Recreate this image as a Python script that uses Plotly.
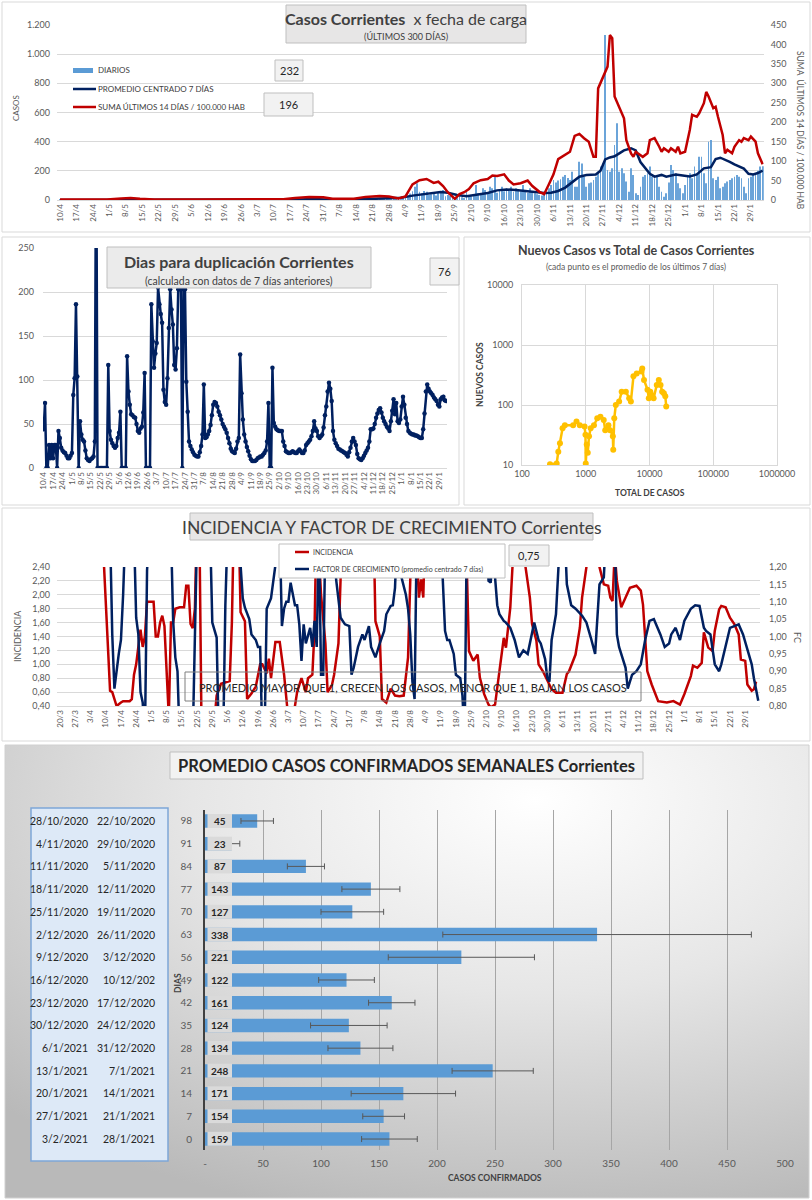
import base64
import plotly.graph_objects as go

W, H = 812, 1200
def fx(p): return p / W
def fy(p): return 1 - p / H

# ---------------- DATA ----------------
week_labels = ["10/4","17/4","24/4","1/5","8/5","15/5","22/5","29/5","5/6","12/6","19/6","26/6",
               "3/7","10/7","17/7","24/7","31/7","7/8","14/8","21/8","28/8","4/9","11/9","18/9",
               "25/9","2/10","9/10","16/10","23/10","30/10","6/11","13/11","20/11","27/11","4/12",
               "11/12","18/12","25/12","1/1","8/1","15/1","22/1","29/1"]
inc_week_labels = ["20/3","27/3","3/4"] + week_labels

# daily cases, day 0 = 10/4/2020 ... day 299 = 3/2/2021
diarios = [
    1,0,2,0,1,0,0,  1,0,0,2,0,1,0,  0,1,0,0,1,0,0,  2,1,3,0,4,2,5,
    3,6,2,4,1,2,1,  0,1,0,0,1,0,0,  0,0,1,0,0,0,1,  0,0,0,1,0,0,2,
    0,1,0,0,0,1,0,  0,0,1,0,0,0,0,  1,0,0,0,2,0,0,  0,1,0,0,0,0,1,
    0,0,0,1,0,0,0,  1,0,2,0,1,3,1,  2,4,3,6,5,4,7,  6,8,5,9,4,6,3,
    2,3,1,2,0,3,1,  2,1,3,2,4,2,3,  5,4,6,8,7,9,6,  10,8,12,9,11,7,10,
    8,12,6,5,9,14,20,  35,28,45,60,91,114,57,  46,62,57,34,40,46,30,
    52,48,69,25,34,28,20,  15,22,34,18,12,57,20,  25,40,103,46,38,80,69,
    55,91,80,160,50,69,91,  60,80,69,91,57,80,75,  60,103,69,50,80,55,46,
    40,34,30,34,57,80,103,  137,120,133,142,160,171,150,  137,194,91,91,263,251,160,
    91,114,120,137,160,194,229,  250,1131,206,194,217,377,526,  194,217,183,126,57,217,171,
    46,34,91,160,171,183,229,  160,149,160,91,57,23,46,  120,240,206,183,114,80,46,
    103,160,183,149,229,183,297,  297,183,114,400,411,149,137,  160,80,91,114,126,137,149,
    160,171,160,149,91,46,149,  160,171,183,200,229,232]

prom7_days = [0, 15, 25, 30, 40, 60, 80, 95, 102, 108, 115, 125, 136, 145, 150, 156, 162, 165, 169, 173,
              177, 182, 186, 190, 194, 199, 203, 206, 209, 212, 215, 218, 221, 224, 228, 230, 232, 234,
              236, 238, 240, 243, 245, 247, 249, 251, 253, 256, 258, 260, 262, 265, 268, 271, 274, 277,
              279, 281, 283, 285, 287, 289, 291, 293, 295, 297, 299]
prom7_vals = [0.5, 0.5, 2, 3, 1, 0.5, 0.5, 1, 4, 6, 2, 3, 9, 15, 30, 45, 55, 50, 34, 26,
              38, 48, 66, 72, 69, 62, 55, 48, 50, 62, 85, 120, 160, 172, 175, 200, 278, 292,
              300, 320, 340, 355, 340, 260, 222, 180, 160, 172, 160, 165, 175, 168, 162, 175, 217, 225,
              280, 290, 278, 262, 245, 232, 215, 180, 175, 185, 201]

suma14_days = [0, 10, 20, 26, 30, 34, 40, 60, 80, 95, 100, 106, 112, 116, 125, 130, 136, 140, 144, 147,
               150, 153, 156, 159, 161, 163, 165, 168, 170, 172, 174, 176, 179, 182, 184, 186, 189, 191,
               193, 196, 199, 201, 204, 206, 208, 210, 212, 215, 217, 219, 221, 223, 225, 227, 228, 229,
               231, 233, 234, 235, 236, 238, 240, 241, 243, 244, 245, 248, 250, 251, 253, 255, 256, 257,
               259, 260, 262, 263, 264, 266, 268, 269, 271, 272, 274, 275, 276, 278, 279, 280, 282, 283,
               284, 286, 287, 289, 290, 291, 293, 294, 296, 297, 299]
suma14_vals = [1, 1, 1, 4, 5, 3, 1, 1, 1, 2, 5, 8, 7, 3, 3, 8, 10, 9, 4, 9,
               40, 51, 54, 44, 47, 36, 20, 3, 15, 20, 28, 43, 51, 54, 63, 62, 66, 50,
               40, 43, 50, 36, 21, 15, 40, 66, 105, 116, 124, 165, 170, 159, 150, 111, 111, 287,
               313, 343, 424, 416, 266, 240, 210, 154, 120, 111, 124, 111, 120, 154, 159, 137, 124, 133,
               124, 133, 124, 137, 120, 124, 180, 219, 214, 223, 249, 278, 266, 236, 240, 214, 167, 120,
               129, 120, 137, 154, 150, 159, 154, 163, 150, 120, 92]

# dias para duplicacion, day 0 = 10/4
dup_vals = [
    44, 74, 0, 0, 26, 11, 26, 11, 26, 26,
    0, 42, 34, 23, 20, 18, 17, 14, 11, 11,
    14, 17, 83, 102, 186, 104, 0, 53, 38, 32,
    30, 20, 11, 9, 8, 10, 11, 13, 30, 400,
    0, 0, 0, 0, 0, 0, 0, 0, 117, 42,
    32, 28, 25, 23, 25, 34, 40, 64, 0, 0,
    0, 0, 127, 87, 72, 61, 60, 58, 57, 50,
    42, 40, 45, 47, 63, 108, 0, 0, 0, 0,
    186, 144, 114, 130, 142, 205, 186, 175, 165, 89,
    75, 72, 102, 159, 203, 180, 163, 117, 112, 136,
    203, 203, 203, 0, 203, 203, 98, 64, 30, 25,
    21, 18, 15, 14, 13, 13, 18, 25, 38, 95,
    34, 35, 38, 42, 49, 60, 72, 75, 74, 70,
    64, 60, 55, 50, 47, 44, 40, 34, 28, 22,
    19, 18, 17, 22, 30, 34, 129, 85, 55, 38,
    30, 24, 19, 14, 10, 8, 8, 8, 9, 11,
    12, 13, 13, 15, 17, 20, 30, 74, 0, 0,
    114, 51, 47, 44, 43, 42, 42, 42, 30, 25,
    19, 18, 17, 17, 18, 19, 18, 17, 17, 19,
    21, 19, 17, 17, 20, 26, 28, 30, 32, 36,
    42, 53, 45, 42, 36, 34, 36, 38, 46, 60,
    70, 87, 97, 90, 76, 42, 32, 28, 25, 22,
    21, 20, 19, 18, 17, 15, 13, 18, 23, 30,
    34, 30, 26, 16, 11, 10, 9, 11, 14, 17,
    20, 23, 30, 44, 44, 45, 50, 57, 62, 66,
    68, 63, 57, 53, 50, 47, 45, 42, 53, 65,
    78, 61, 74, 53, 51, 55, 70, 81, 72, 57,
    50, 42, 40, 39, 38, 38, 37, 37, 36, 35,
    34, 34, 44, 62, 87, 95, 90, 87, 85, 83,
    80, 78, 76, 72, 70, 78, 80, 81, 77, 76]

scat_total = [275, 350, 371, 394, 433, 470, 634, 716, 807, 958, 990, 1000, 1037, 1075, 1125,
              1195, 1345, 1515, 1700, 1915, 2020, 2270, 2410, 2660, 2700, 2800, 2960, 3340, 3660, 4260,
              4800, 5100, 5600, 6300, 7500, 7700, 8200, 9300, 9750, 10300, 11000, 11600, 13000, 14000,
              14900, 15800, 16800, 17700, 18300]
scat_new = [10.3, 10.6, 16.7, 23, 41, 46, 46, 53, 46, 44, 32, 10.6, 22, 16, 30,
            41, 46, 60, 64, 56, 38, 46, 38, 30, 18, 60, 100, 114, 167, 167,
            130, 114, 300, 335, 360, 405, 262, 180, 130, 167, 145, 130, 215, 260,
            215, 167, 157, 140, 94]

# incidencia / factor de crecimiento, day 0 = 20/3/2020
inc_days = [19, 21, 23, 24, 26, 28, 29, 32, 33, 34,
            35, 36, 37, 38, 39, 40, 43, 44, 45, 46,
            47, 48, 49, 50, 51, 52, 53, 55, 57, 58,
            59, 60, 61, 62, 63, 64, 65, 71, 72, 74,
            78, 79, 80, 82, 83, 85, 86, 88, 90, 92,
            93, 95, 96, 97, 99, 101, 103, 104, 105, 107,
            109, 111, 113, 114, 116, 117, 118, 119, 120, 122,
            123, 125, 126, 128, 129, 130, 144, 145, 147, 148,
            150, 152, 154, 156, 158, 160, 161, 162, 164, 165,
            166, 167, 168, 186, 187, 188, 190, 192, 193, 195,
            197, 198, 200, 201, 203, 204, 205, 207, 208, 209,
            213, 214, 216, 217, 219, 220, 222, 224, 226, 228,
            231, 233, 234, 237, 239, 240, 242, 243, 247, 248,
            250, 252, 253, 254, 255, 256, 258, 260, 262, 265,
            267, 268, 269, 270, 272, 275, 279, 282, 285, 287,
            290, 291, 293, 295, 296, 298, 300, 301, 303, 304,
            306, 308, 310, 312, 313, 315, 316, 318, 319, 320]
inc_vals = [3.2, 1.9, 0.62, 0.6, 0.4, 0.45, 0.47, 0.47, 0.5, 0.85,
            1.0, 1.25, 1.5, 1.25, 1.4, 1.9, 1.9, 1.4, 1.4, 1.6,
            1.7, 1.55, 0.9, 0.25, 1.6, 1.6, 1.8, 1.82, 1.82, 2.13,
            2.13, 1.58, 1.52, 1.8, 3.2, 3.2, 0.2, 0.2, 0.55, 0.72,
            0.76, 1.6, 3.2, 3.2, 1.75, 1.62, 0.5, 0.58, 0.68, 1.0,
            1.0, 0.87, 1.08, 0.8, 1.32, 1.32, 0.85, 0.4, 0.2, 0.2,
            0.6, 0.8, 0.6, 0.8, 0.85, 1.5, 3.2, 2.6, 2.0, 1.3,
            0.6, 0.7, 0.85, 1.3, 2.4, 3.2, 3.2, 1.62, 1.4, 0.5,
            0.45, 0.65, 0.55, 0.54, 0.55, 1.1, 2.2, 3.2, 2.6, 1.96,
            2.22, 1.96, 3.2, 3.2, 2.4, 1.19, 1.05, 1.14, 0.81, 0.57,
            0.42, 0.38, 0.42, 0.66, 1.19, 1.38, 1.24, 1.82, 2.4, 3.2,
            3.2, 2.4, 1.96, 1.58, 1.34, 1.0, 0.9, 0.76, 0.64, 0.59,
            0.59, 0.86, 0.9, 1.14, 1.53, 1.96, 2.4, 3.2, 3.2, 2.4,
            2.15, 2.13, 1.96, 1.91, 2.6, 2.2, 1.82, 1.96, 2.1, 2.13,
            2.06, 1.86, 1.34, 0.9, 0.71, 0.47, 0.45, 0.47, 0.42, 0.57,
            0.83, 0.98, 0.95, 1.02, 1.46, 1.24, 1.19, 1.48, 1.79, 1.84,
            1.82, 1.67, 1.58, 1.43, 1.07, 1.05, 0.71, 0.62, 0.64, 0.75]
fc_days = [23, 24, 25, 26, 27, 28, 29, 30, 34, 35,
           36, 37, 38, 39, 40, 41, 51, 52, 53, 54,
           55, 61, 62, 63, 69, 70, 72, 73, 75, 76,
           77, 82, 84, 85, 87, 88, 90, 91, 92, 93,
           94, 95, 97, 98, 100, 101, 102, 103, 104, 105,
           106, 107, 108, 109, 110, 111, 112, 113, 115, 116,
           117, 118, 119, 120, 121, 122, 125, 127, 129, 131,
           133, 134, 135, 137, 139, 140, 142, 143, 145, 147,
           149, 150, 152, 153, 154, 155, 157, 159, 160, 161,
           162, 163, 164, 175, 177, 178, 179, 181, 182, 184,
           185, 186, 187, 196, 197, 198, 199, 201, 202, 204,
           205, 207, 209, 211, 213, 215, 217, 218, 220, 221,
           223, 224, 225, 226, 228, 229, 230, 232, 233, 235,
           237, 240, 242, 244, 246, 248, 250, 251, 255, 256,
           257, 260, 261, 263, 265, 267, 269, 271, 273, 274,
           276, 278, 280, 281, 283, 285, 287, 290, 292, 294,
           296, 297, 299, 301, 303, 304, 306, 308, 310, 312,
           314, 316, 318, 319, 321]
fc_vals = [1.3, 1.006, 0.85, 0.91, 0.95, 0.99, 1.12, 1.3, 1.3, 1.054,
           1.006, 0.84, 0.81, 0.7, 1.19, 1.3, 1.3, 1.045, 0.94, 0.90,
           0.7, 0.7, 1.06, 1.3, 1.3, 1.04, 0.997, 0.7, 0.7, 1.09,
           1.3, 1.3, 1.11, 1.083, 1.05, 1.006, 0.99, 0.97, 0.97, 0.7,
           0.7, 1.08, 1.11, 1.16, 1.3, 1.3, 1.03, 1.08, 1.10, 1.10,
           1.155, 1.12, 1.09, 1.09, 1.035, 0.93, 1.035, 0.98, 1.025, 0.97,
           1.045, 0.97, 1.3, 0.89, 0.89, 1.3, 1.3, 1.16, 1.054, 1.035,
           1.03, 0.89, 0.91, 0.97, 1.006, 0.99, 1.03, 0.97, 0.94, 0.98,
           1.016, 1.064, 1.088, 1.09, 1.14, 1.3, 1.17, 1.12, 1.08, 1.006,
           0.87, 0.82, 1.3, 1.3, 1.016, 0.99, 0.99, 0.95, 0.89, 0.88,
           0.83, 0.7, 1.3, 1.3, 1.16, 1.155, 1.25, 1.09, 1.064, 1.045,
           1.04, 1.025, 0.99, 0.94, 0.96, 0.95, 1.006, 1.04, 0.99, 0.98,
           0.935, 0.88, 0.87, 0.99, 1.064, 1.15, 1.3, 1.3, 1.15, 1.09,
           1.08, 1.06, 1.04, 0.997, 0.95, 1.15, 1.17, 1.3, 1.3, 1.006,
           0.97, 0.91, 0.85, 0.89, 0.90, 0.92, 0.99, 1.045, 1.05, 1.035,
           1.006, 0.97, 0.98, 1.006, 1.025, 0.99, 1.045, 1.08, 1.09, 1.088,
           1.025, 1.016, 1.006, 0.92, 0.90, 0.92, 0.97, 1.025, 1.03, 1.035,
           1.006, 0.96, 0.92, 0.88, 0.815]

dias = [98, 91, 84, 77, 70, 63, 56, 49, 42, 35, 28, 21, 14, 7, 0]
prom_sem = [45, 23, 87, 143, 127, 338, 221, 122, 161, 124, 134, 248, 171, 154, 159]
err_sem = [14, 7, 16, 25, 27, 133, 63, 24, 20, 33, 28, 35, 45, 18, 24]
fecha_fin = ["28/10/2020","4/11/2020","11/11/2020","18/11/2020","25/11/2020","2/12/2020","9/12/2020",
             "16/12/2020","23/12/2020","30/12/2020","6/1/2021","13/1/2021","20/1/2021","27/1/2021","3/2/2021"]
fecha_ini = ["22/10/2020","29/10/2020","5/11/2020","12/11/2020","19/11/2020","26/11/2020","3/12/2020",
             "10/12/202","17/12/2020","24/12/2020","31/12/2020","7/1/2021","14/1/2021","21/1/2021","28/1/2021"]

# ---------------- STYLE ----------------
FONT = "Lato"
GRAY = "#595959"
DARK = "#404040"
GRID = "#d9d9d9"
BLUE = "#5B9BD5"
NAVY = "#002060"
RED = "#C00000"
GOLD = "#FFC000"

fig = go.Figure()

# Panel 1
fig.add_trace(go.Bar(x=list(range(len(diarios))), y=diarios, marker_color=BLUE, marker_line_width=0,
                     width=0.35, opacity=0.9, xaxis="x", yaxis="y"))
fig.add_trace(go.Scatter(x=prom7_days, y=prom7_vals, mode="lines", line=dict(color=NAVY, width=2.5),
                         xaxis="x", yaxis="y"))
fig.add_trace(go.Scatter(x=suma14_days, y=suma14_vals, mode="lines", line=dict(color=RED, width=2.5),
                         xaxis="x", yaxis="y2"))
# Panel 2
fig.add_trace(go.Scatter(x=list(range(len(dup_vals))), y=dup_vals, mode="lines+markers",
                         line=dict(color=NAVY, width=2.5), marker=dict(color=NAVY, size=4.5),
                         xaxis="x3", yaxis="y3"))
# Panel 3
fig.add_trace(go.Scatter(x=scat_total, y=scat_new, mode="lines+markers",
                         line=dict(color=GOLD, width=2.5), marker=dict(color=GOLD, size=6),
                         xaxis="x4", yaxis="y4"))
# Panel 4
fig.add_trace(go.Scatter(x=inc_days, y=inc_vals, mode="lines", line=dict(color=RED, width=2.5),
                         xaxis="x5", yaxis="y5"))
fig.add_trace(go.Scatter(x=fc_days, y=fc_vals, mode="lines", line=dict(color=NAVY, width=2.5),
                         xaxis="x5", yaxis="y6"))
# Panel 5
fig.add_trace(go.Bar(x=prom_sem, y=list(range(len(prom_sem))), orientation="h", marker_color=BLUE,
                     marker_line_width=0, width=0.59,
                     error_x=dict(type="data", array=err_sem, color=GRAY, thickness=1, width=3),
                     xaxis="x7", yaxis="y7"))

tf8 = dict(family=FONT, size=8, color=GRAY)
tf9 = dict(family=FONT, size=9, color=GRAY)
tf10 = dict(family=FONT, size=10, color=GRAY)

layout = dict(
    width=W, height=H, margin=dict(l=0, r=0, t=0, b=0, autoexpand=False),
    paper_bgcolor="white", plot_bgcolor="rgba(0,0,0,0)", showlegend=False,
    font=dict(family=FONT, color=DARK),
    # panel 1
    xaxis=dict(domain=[fx(57), fx(763.8)], range=[-1.3, 299.5], anchor="y",
               tickvals=list(range(0, 7 * len(week_labels), 7)), ticktext=week_labels,
               tickangle=-90, tickfont=tf8, showgrid=False, zeroline=False,
               showline=True, linecolor=GRID, automargin=False),
    yaxis=dict(domain=[fy(200), fy(25)], range=[0, 1200], anchor="x",
               tickvals=[0, 200, 400, 600, 800, 1000, 1200],
               ticktext=["0", "200", "400", "600", "800", "1.000", "1.200"],
               tickfont=tf9, gridcolor=GRID, zeroline=False, ticklabelstandoff=6, automargin=False),
    yaxis2=dict(range=[0, 450], overlaying="y", side="right", anchor="x", dtick=50,
                tickfont=tf9, showgrid=False, zeroline=False, ticklabelstandoff=6, automargin=False),
    # panel 2
    xaxis3=dict(domain=[fx(43), fx(447)], range=[-0.5, 299.7], anchor="y3",
                tickvals=list(range(0, 7 * len(week_labels), 7)), ticktext=week_labels,
                tickangle=-90, tickfont=tf8, showgrid=False, zeroline=False,
                showline=True, linecolor=GRID, automargin=False),
    yaxis3=dict(domain=[fy(468), fy(248)], range=[0, 250], anchor="x3", dtick=50,
                tickfont=tf9, gridcolor=GRID, zeroline=False, ticklabelstandoff=8, automargin=False),
    # panel 3
    xaxis4=dict(domain=[fx(522), fx(777)], type="log", range=[2, 6], anchor="y4",
                tickvals=[100, 1000, 10000, 100000, 1000000],
                ticktext=["100", "1000", "10000", "100000", "1000000"],
                tickfont=tf9, gridcolor=GRID, zeroline=False, showline=True,
                linecolor=GRID, mirror=True, automargin=False),
    yaxis4=dict(domain=[fy(465), fy(285)], type="log", range=[1, 4], anchor="x4",
                tickvals=[10, 100, 1000, 10000], ticktext=["10", "100", "1000", "10000"],
                tickfont=tf9, gridcolor=GRID, zeroline=False, showline=True,
                linecolor=GRID, mirror=True, ticklabelstandoff=6, automargin=False),
    # panel 4
    xaxis5=dict(domain=[fx(57), fx(760)], range=[-1.4, 321.8], anchor="y5",
                tickvals=list(range(0, 7 * len(inc_week_labels), 7)), ticktext=inc_week_labels,
                tickangle=-90, tickfont=tf8, showgrid=False, zeroline=False,
                showline=True, linecolor=GRID, automargin=False),
    yaxis5=dict(domain=[fy(706), fy(567)], range=[0.4, 2.4], anchor="x5",
                tickvals=[0.4 + 0.2 * i for i in range(11)],
                ticktext=[("%.2f" % (0.4 + 0.2 * i)).replace(".", ",") for i in range(11)],
                tickfont=tf9, gridcolor=GRID, zeroline=False, ticklabelstandoff=6, automargin=False),
    yaxis6=dict(range=[0.8, 1.2], overlaying="y5", side="right", anchor="x5",
                tickvals=[0.8 + 0.05 * i for i in range(9)],
                ticktext=[("%.2f" % (0.8 + 0.05 * i)).replace(".", ",") for i in range(9)],
                tickfont=tf9, showgrid=False, zeroline=False, ticklabelstandoff=8, automargin=False),
    # panel 5
    xaxis7=dict(domain=[fx(205), fx(785)], range=[0, 500], anchor="y7",
                tickvals=list(range(0, 550, 50)),
                ticktext=["-"] + [str(v) for v in range(50, 550, 50)],
                tickfont=tf10, gridcolor="#a6a6a6", zeroline=False, ticklabelstandoff=6, automargin=False),
    yaxis7=dict(domain=[fy(1150.4), fy(809.6)], range=[14.5, -0.5], anchor="x7",
                tickvals=list(range(len(dias))), ticktext=[str(d) for d in dias],
                tickfont=tf10, showgrid=False, zeroline=False, showline=True,
                linecolor=DARK, linewidth=2, ticklabelstandoff=9, automargin=False),
)
fig.update_layout(**layout)

shapes = []
ann = []

def rect(x0, y0, x1, y1, fill="rgba(0,0,0,0)", line="#bfbfbf", lw=1):
    shapes.append(dict(type="rect", xref="paper", yref="paper", x0=fx(x0), x1=fx(x1),
                       y0=fy(y1), y1=fy(y0), fillcolor=fill, line=dict(color=line, width=lw)))

def hline(x0, x1, y, color, lw=2.5):
    shapes.append(dict(type="line", xref="paper", yref="paper", x0=fx(x0), x1=fx(x1),
                       y0=fy(y), y1=fy(y), line=dict(color=color, width=lw)))

def txt(x, y, s, size, color=DARK, xanchor="center", angle=0):
    ann.append(dict(xref="paper", yref="paper", x=fx(x), y=fy(y), text=s, showarrow=False,
                    xanchor=xanchor, yanchor="middle", textangle=angle,
                    font=dict(family=FONT, size=size, color=color)))

# panel frames
rect(2, 2, 810, 232, line="#d9d9d9")
rect(2, 237, 459, 505, line="#d9d9d9")
rect(464, 237, 810, 505, line="#d9d9d9")
rect(2, 508, 810, 741, line="#d9d9d9")
rect(5, 745, 809, 1198, line="#d0d0d0")

# ---- panel 1 decorations
rect(286, 5, 526, 43, fill="#e7e6e6")
txt(406, 18, "<b>Casos Corrientes</b>  x fecha de carga", 16, DARK)
txt(406, 36, "(ÚLTIMOS 300 DÍAS)", 9, DARK)
shapes.append(dict(type="rect", xref="paper", yref="paper", x0=fx(73), x1=fx(93), y0=fy(73), y1=fy(68),
                   fillcolor=BLUE, line=dict(width=0)))
hline(73, 96, 89, NAVY)
hline(73, 96, 107, RED)
txt(96, 70, "DIARIOS", 8, DARK, "left")
txt(96, 89, "PROMEDIO CENTRADO 7 DÍAS", 8, DARK, "left")
txt(96, 107, "SUMA ÚLTIMOS 14 DÍAS / 100.000 HAB", 8, DARK, "left")
rect(275, 60, 303, 81, fill="#f2f2f2")
txt(289, 70.5, "232", 11, "#262626")
rect(264, 93, 313, 116, fill="#f2f2f2")
txt(288.5, 104.5, "196", 11, "#262626")
txt(16, 108, "CASOS", 8, GRAY, angle=-90)
txt(801, 130, "SUMA  ÚLTIMOS 14 DÍAS / 100.000 HAB", 8.5, GRAY, angle=90)

# ---- panel 2 decorations
rect(107, 247, 371, 288, fill="#ebebeb")
txt(239, 262, "<b>Dias para duplicación Corrientes</b>", 16, DARK)
txt(239, 281, "(calculada con datos de 7 días anteriores)", 10.5, DARK)
rect(430, 258, 459, 285, fill="#f2f2f2")
txt(444.5, 271.5, "76", 11, "#262626")

# ---- panel 3 decorations
txt(636, 250, "<b>Nuevos Casos vs Total de Casos Corrientes</b>", 12.5, DARK)
txt(636, 267, "(cada punto es el promedio de los últimos 7 días)", 8.5, GRAY)
txt(480, 375, "<b>NUEVOS CASOS</b>", 8.5, DARK, angle=-90)
txt(650, 493, "<b>TOTAL DE CASOS</b>", 8.5, DARK)

# ---- panel 4 decorations
rect(190, 513, 593, 540, fill="#e7e6e6")
txt(391.5, 527, "INCIDENCIA Y FACTOR DE CRECIMIENTO Corrientes", 17.5, DARK)
rect(279, 544, 505, 578, fill="white")
hline(295, 309, 552, RED)
hline(295, 309, 569, NAVY)
txt(311, 552, "INCIDENCIA", 7, DARK, "left")
txt(311, 569, "FACTOR DE CRECIMIENTO (promedio centrado 7 días)", 7, DARK, "left")
rect(509, 545, 549, 566, fill="#f2f2f2")
txt(529, 555.5, "0,75", 11, "#262626")
rect(185, 672, 641, 701, line="#7f7f7f")
txt(413, 687, "PROMEDIO MAYOR QUE 1, CRECEN LOS CASOS, MENOR QUE 1, BAJAN LOS CASOS", 11, "#262626")
txt(17, 636, "INCIDENCIA", 9, GRAY, angle=-90)
txt(798, 637, "FC", 9, GRAY, angle=90)

# ---- panel 5 decorations
rect(170, 752, 643, 779, fill="#f2f2f2")
txt(406.5, 766, "<b>PROMEDIO CASOS CONFIRMADOS SEMANALES Corrientes</b>", 16.5, "#262626")
rect(31, 808, 168, 1161, fill="#dde9f7", line="#7ea6d8", lw=1.5)
for i in range(len(dias)):
    yy = 821 + i * 22.7
    txt(90, yy, fecha_fin[i], 10.5, "#262626", "right")
    txt(157, yy, fecha_ini[i], 10.5, "#262626", "right")
    shapes.append(dict(type="rect", xref="paper", yref="paper", x0=fx(207.5), x1=fx(232),
                       y0=fy(yy + 7), y1=fy(yy - 7), fillcolor="#dadada", line=dict(width=0)))
    txt(219.5, yy, "<b>%d</b>" % prom_sem[i], 10, "#262626")
txt(178, 983, "<b>DIAS</b>", 8.5, DARK, angle=-90)
txt(495, 1178, "<b>CASOS CONFIRMADOS</b>", 8.5, DARK)

# gradient background of the bottom panel
svg = ('<svg xmlns="http://www.w3.org/2000/svg" width="804" height="453">'
       '<defs><radialGradient id="g" cx="0.66" cy="0.12" r="0.95">'
       '<stop offset="0" stop-color="#ffffff"/><stop offset="0.45" stop-color="#e6e6e6"/>'
       '<stop offset="1" stop-color="#b9b9b9"/></radialGradient></defs>'
       '<rect width="804" height="453" fill="url(#g)"/></svg>')
uri = "data:image/svg+xml;base64," + base64.b64encode(svg.encode()).decode()
fig.update_layout(images=[dict(source=uri, xref="paper", yref="paper", x=fx(5), y=fy(745),
                               sizex=fx(809) - fx(5), sizey=(1198 - 745) / H,
                               xanchor="left", yanchor="top", sizing="stretch", layer="below")])

fig.update_layout(shapes=shapes, annotations=ann)
fig.write_html("out.html", config={"displayModeBar": False},
               post_script="document.body.style.margin='0px';document.body.style.padding='0px';"
                           "document.body.style.overflow='hidden';")
